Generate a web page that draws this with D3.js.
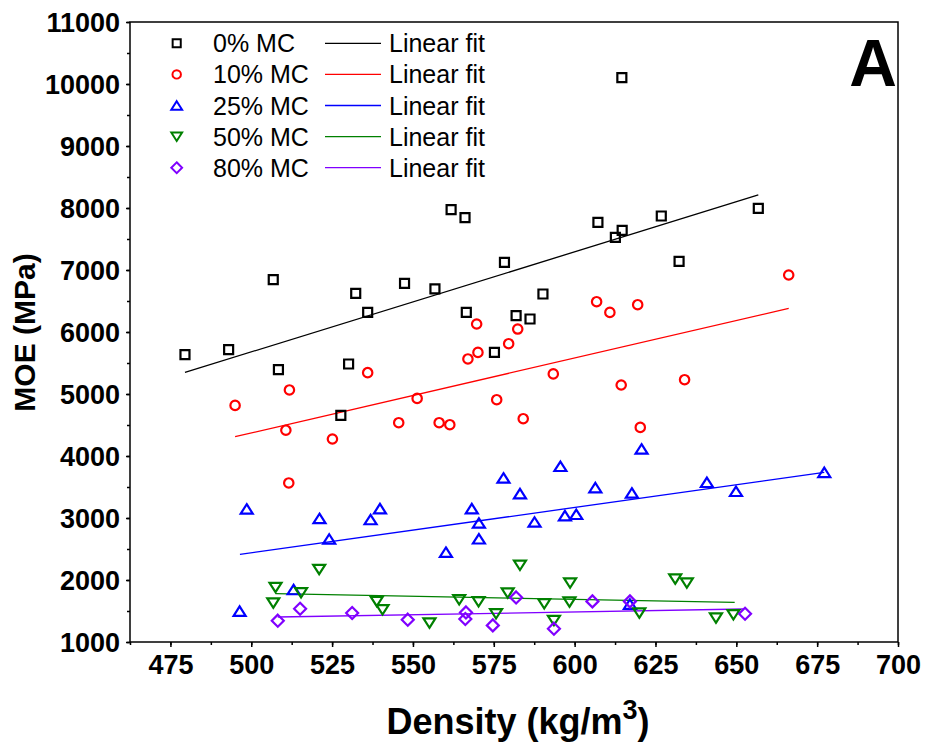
<!DOCTYPE html>
<html>
<head>
<meta charset="utf-8">
<script src="https://cdn.jsdelivr.net/npm/d3@7"></script>
<style>
  html, body { margin: 0; padding: 0; background: #fff; }
  svg { display: block; }
  text { font-family: "Liberation Sans", Arial, sans-serif; }
</style>
</head>
<body>
<div id="chart"></div>
<script>
// ---------------- DATA ----------------
const seriesNames = ["0% MC", "10% MC", "25% MC", "50% MC", "80% MC"];
const seriesColors = ["#000000", "#ff0000", "#0000ff", "#008000", "#8000ff"];
const fitColors = ["#000000", "#ff0000", "#0000ff", "#008000", "#8000ff"];
const seriesShapes = ["square", "circle", "triangleUp", "triangleDown", "diamond"];

const mc0Density = [479.5, 493.0, 506.8, 508.4, 527.7, 530.1, 532.3, 536.0, 547.4, 556.8, 561.8, 566.1, 566.5, 575.2, 578.3, 581.9, 586.2, 590.2, 607.2, 612.6, 614.7, 614.6, 626.8, 632.3, 656.8];
const mc0MOE     = [5634, 5715, 6844, 5392, 4655, 5484, 6623, 6316, 6784, 6694, 7973, 7844, 6316, 5671, 7123, 6263, 6210, 6613, 7768, 7526, 7639, 10102, 7871, 7139, 7994];

const mc10Density = [495.0, 511.8, 510.7, 511.6, 525.1, 536.0, 545.6, 551.3, 558.1, 561.4, 567.0, 569.7, 570.1, 575.9, 579.6, 582.4, 584.1, 593.4, 606.8, 610.9, 614.4, 619.5, 620.3, 634.0, 666.2];
const mc10MOE     = [4816, 5065, 4416, 3565, 4274, 5344, 4537, 4929, 4537, 4505, 5565, 6129, 5671, 4908, 5811, 6048, 4602, 5324, 6489, 6316, 5145, 6440, 4461, 5231, 6919];

const mc25Density = [496.4, 498.6, 513.1, 521.1, 524.1, 536.9, 539.8, 560.2, 568.2, 570.4, 570.4, 578.0, 583.1, 587.6, 595.6, 597.0, 600.5, 606.4, 617.1, 617.7, 620.7, 640.9, 649.9, 677.2];
const mc25MOE     = [1497, 3145, 1844, 2992, 2661, 2973, 3150, 2448, 3150, 2919, 2663, 3645, 3392, 2935, 3832, 3037, 3058, 3489, 1610, 3403, 4113, 3574, 3429, 3735];

const mc50Density = [506.8, 507.5, 515.4, 521.0, 538.8, 540.6, 555.1, 564.3, 570.3, 575.7, 579.3, 583.1, 590.6, 593.6, 598.4, 598.6, 620.0, 631.1, 634.7, 643.7, 649.1];
const mc50MOE     = [1629, 1881, 1795, 2171, 1655, 1521, 1306, 1682, 1650, 1456, 1790, 2239, 1618, 1348, 1645, 1952, 1468, 2016, 1952, 1387, 1440];

const mc80Density = [508.2, 515.1, 531.2, 548.4, 566.2, 566.4, 574.7, 581.9, 593.6, 605.5, 617.1, 652.7];
const mc80MOE     = [1344, 1537, 1468, 1360, 1371, 1477, 1268, 1719, 1215, 1655, 1655, 1456];

// linear-fit end points: [x0, y0, x1, y1]
const fit0  = [479.5, 5348, 656.8, 8210];
const fit10 = [495.0, 4311, 666.2, 6381];
const fit25 = [496.5, 2413, 677.2, 3735];
const fit50 = [507.5, 1780, 649.5, 1640];
const fit80 = [508.2, 1403, 652.2, 1532];

const xTicks = [475, 500, 525, 550, 575, 600, 625, 650, 675, 700];
const yTicks = [1000, 2000, 3000, 4000, 5000, 6000, 7000, 8000, 9000, 10000, 11000];
const xDomain = [462.5, 700];
const yDomain = [1000, 11000];

const seriesX = [mc0Density, mc10Density, mc25Density, mc50Density, mc80Density];
const seriesY = [mc0MOE, mc10MOE, mc25MOE, mc50MOE, mc80MOE];
const fits = [fit0, fit10, fit25, fit50, fit80];

// ---------------- CHART ----------------
const W = 925, H = 747;
const L = 130, R = 898, T = 22, B = 642;

const svg = d3.select("#chart").append("svg").attr("width", W).attr("height", H);

const x = d3.scaleLinear().domain(xDomain).range([L, R]);
const y = d3.scaleLinear().domain(yDomain).range([B, T]);

function markerPath(shape) {
  switch (shape) {
    case "square": return "M-4.5,-4.5H4.5V4.5H-4.5Z";
    case "circle": return d3.arc()({innerRadius: 0, outerRadius: 4.7, startAngle: 0, endAngle: 2 * Math.PI});
    case "triangleUp": return "M0,-4.8L6,4.6H-6Z";
    case "triangleDown": return "M0,4.8L6,-4.6H-6Z";
    case "diamond": return "M0,-6L6,0L0,6L-6,0Z";
  }
}

// axes
const xMinor = d3.range(xDomain[0], xDomain[1] + 0.01, 12.5);
const yMinor = d3.range(yDomain[0], yDomain[1] + 1, 500);

const xAxisMinor = d3.axisBottom(x).tickValues(xMinor).tickSize(3).tickFormat("");
const xAxis = d3.axisBottom(x).tickValues(xTicks).tickSize(5).tickPadding(6).tickFormat(d3.format("d"));
const yAxisMinor = d3.axisLeft(y).tickValues(yMinor).tickSize(3).tickFormat("");
const yAxis = d3.axisLeft(y).tickValues(yTicks).tickSize(4).tickPadding(6).tickFormat(d3.format("d"));

function styleAxis(g) {
  g.select(".domain").remove();
  g.selectAll(".tick line").attr("stroke", "#000").attr("stroke-width", 1.5);
}

svg.append("g").attr("transform", `translate(0,${B})`).call(xAxisMinor).call(styleAxis);
const gx = svg.append("g").attr("transform", `translate(0,${B})`).call(xAxis).call(styleAxis);
gx.selectAll(".tick text").attr("font-size", 27).attr("font-weight", "bold").attr("fill", "#000")
  .attr("font-family", '"Liberation Sans", Arial, sans-serif').attr("dy", "0.71em").attr("y", 13);

svg.append("g").attr("transform", `translate(${L},0)`).call(yAxisMinor).call(styleAxis);
const gy = svg.append("g").attr("transform", `translate(${L},0)`).call(yAxis).call(styleAxis);
gy.selectAll(".tick text").attr("font-size", 27).attr("font-weight", "bold").attr("fill", "#000")
  .attr("font-family", '"Liberation Sans", Arial, sans-serif').attr("dy", "0.36em").attr("x", -10);

// frame
svg.append("rect").attr("x", L).attr("y", T).attr("width", R - L).attr("height", B - T)
  .attr("fill", "none").attr("stroke", "#000").attr("stroke-width", 1.5);

// fit lines
const plot = svg.append("g");
fits.forEach((f, i) => {
  plot.append("line")
    .attr("x1", x(f[0])).attr("y1", y(f[1]))
    .attr("x2", x(f[2])).attr("y2", y(f[3]))
    .attr("stroke", fitColors[i]).attr("stroke-width", 1.3);
});

// points
seriesX.forEach((xs, i) => {
  plot.append("g").selectAll("path").data(xs.map((d, j) => [d, seriesY[i][j]]))
    .join("path")
    .attr("d", markerPath(seriesShapes[i]))
    .attr("transform", d => `translate(${x(d[0])},${y(d[1])})`)
    .attr("fill", "none").attr("stroke", seriesColors[i]).attr("stroke-width", 2.2);
});

// legend
const legY0 = 43.3, legDy = 31.1;
const leg = svg.append("g");
seriesNames.forEach((name, i) => {
  const yy = legY0 + i * legDy;
  leg.append("path").attr("d", markerPath(seriesShapes[i]))
    .attr("transform", `translate(176.7,${yy}) scale(0.9)`)
    .attr("fill", "none").attr("stroke", seriesColors[i]).attr("stroke-width", 2.2);
  leg.append("text").attr("x", 213).attr("y", yy + 9).attr("font-size", 25).attr("fill", "#000").text(name);
  leg.append("line").attr("x1", 325).attr("x2", 381).attr("y1", yy).attr("y2", yy)
    .attr("stroke", fitColors[i]).attr("stroke-width", 1.3);
  leg.append("text").attr("x", 389).attr("y", yy + 9).attr("font-size", 25).attr("fill", "#000").text("Linear fit");
});

// panel letter
svg.append("text").attr("x", 897).attr("y", 86).attr("text-anchor", "end")
  .attr("font-size", 66).attr("font-weight", "bold").attr("fill", "#000").text("A");

// axis titles
const xt = svg.append("text").attr("x", (L + R) / 2 + 4).attr("y", 734).attr("text-anchor", "middle")
  .attr("font-size", 36).attr("font-weight", "bold").attr("fill", "#000");
xt.append("tspan").text("Density (kg/m");
xt.append("tspan").attr("font-size", 27).attr("dy", -15).text("3");
xt.append("tspan").attr("dy", 15).text(")");

svg.append("text").attr("transform", `translate(35,${(T + B) / 2 + 0.5}) rotate(-90)`)
  .attr("text-anchor", "middle").attr("font-size", 30).attr("font-weight", "bold").attr("fill", "#000")
  .text("MOE (MPa)");
</script>
</body>
</html>
